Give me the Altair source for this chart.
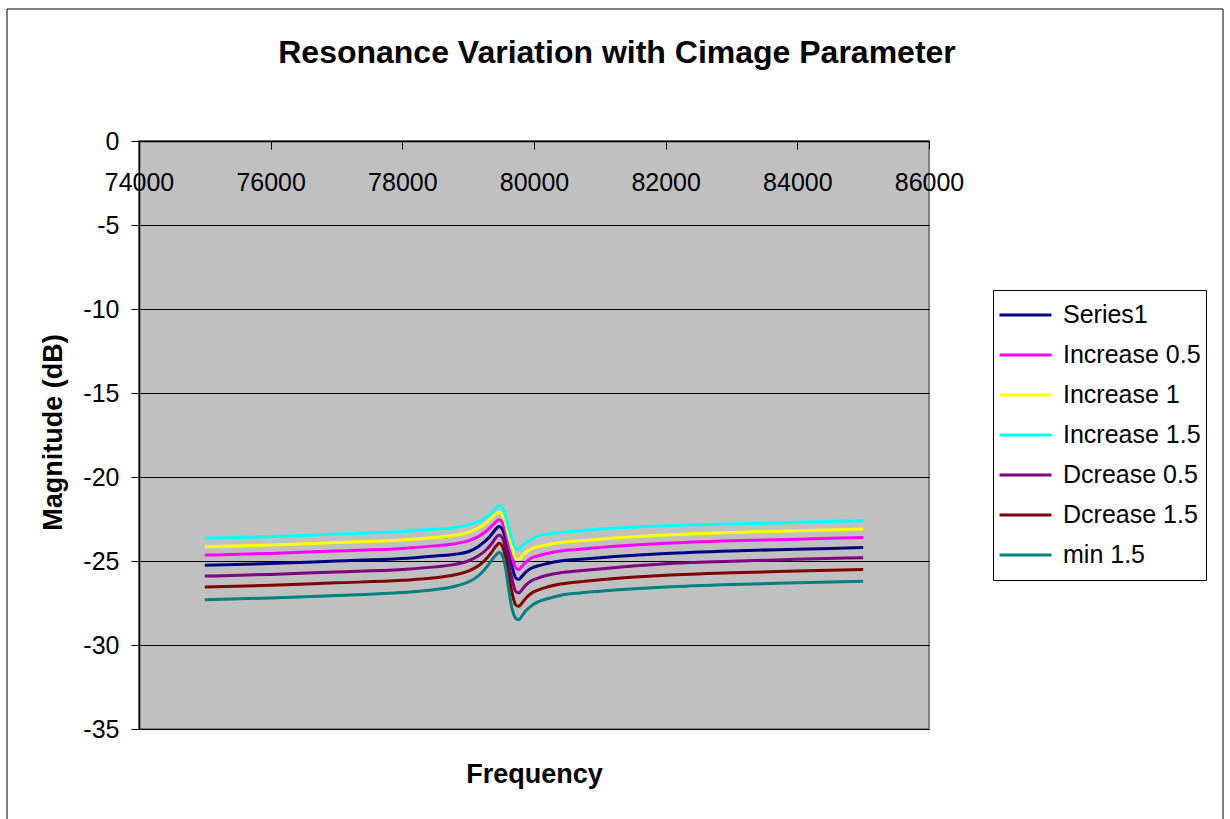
import altair as alt
import pandas as pd

freq = [75000, 76000, 77000, 78000, 78500, 78800, 79000, 79150, 79250, 79350,
        79420, 79470, 79520, 79570, 79620, 79670, 79720, 79770, 79820, 79880,
        79950, 80050, 80200, 80400, 80700, 81000, 82000, 83000, 84000, 85000]

series1 = [-25.25, -25.15, -25.0, -24.85, -24.7, -24.6, -24.45, -24.15, -23.85, -23.45,
           -23.1, -22.95, -23.1, -23.7, -24.6, -25.4, -26.0, -26.1, -25.9, -25.65,
           -25.45, -25.3, -25.15, -25.0, -24.9, -24.8, -24.55, -24.4, -24.3, -24.2]
inc05 = [-24.65, -24.55, -24.4, -24.25, -24.1, -23.97, -23.8, -23.55, -23.3, -22.95,
         -22.67, -22.55, -22.7, -23.25, -24.05, -24.8, -25.4, -25.5, -25.3, -25.05,
         -24.85, -24.7, -24.55, -24.4, -24.3, -24.2, -23.95, -23.8, -23.7, -23.6]
inc1 = [-24.15, -24.05, -23.9, -23.75, -23.6, -23.47, -23.3, -23.05, -22.8, -22.45,
        -22.2, -22.1, -22.25, -22.8, -23.6, -24.3, -24.85, -24.9, -24.7, -24.47,
        -24.3, -24.15, -24.03, -23.9, -23.8, -23.7, -23.45, -23.3, -23.2, -23.1]
inc15 = [-23.65, -23.55, -23.4, -23.25, -23.1, -23.0, -22.85, -22.65, -22.45, -22.15,
         -21.85, -21.7, -21.85, -22.35, -23.1, -23.75, -24.25, -24.3, -24.1, -23.9,
         -23.75, -23.5, -23.4, -23.3, -23.2, -23.1, -22.9, -22.8, -22.7, -22.6]
dec05 = [-25.9, -25.8, -25.65, -25.5, -25.35, -25.2, -25.0, -24.7, -24.42, -24.0,
         -23.62, -23.45, -23.62, -24.25, -25.3, -26.15, -26.8, -26.9, -26.7, -26.42,
         -26.2, -26.03, -25.85, -25.7, -25.58, -25.47, -25.17, -25.02, -24.9, -24.8]
dec15 = [-26.55, -26.45, -26.3, -26.15, -26.0, -25.82, -25.6, -25.3, -24.97, -24.52,
         -24.12, -23.95, -24.12, -24.82, -25.95, -26.95, -27.6, -27.7, -27.48, -27.2,
         -26.95, -26.75, -26.55, -26.37, -26.23, -26.12, -25.85, -25.7, -25.6, -25.5]
min15 = [-27.3, -27.2, -27.05, -26.88, -26.7, -26.5, -26.25, -25.9, -25.5, -25.0,
         -24.65, -24.5, -24.68, -25.45, -26.8, -27.9, -28.4, -28.5, -28.25, -27.95,
         -27.7, -27.45, -27.25, -27.05, -26.9, -26.8, -26.55, -26.4, -26.3, -26.2]

names = ["Series1", "Increase 0.5", "Increase 1", "Increase 1.5",
         "Dcrease 0.5", "Dcrease 1.5", "min 1.5"]
colors = ["#000080", "#FF00FF", "#FFFF00", "#00FFFF", "#800080", "#800000", "#008080"]
x_ticks = [74000, 76000, 78000, 80000, 82000, 84000, 86000]
y_ticks = [0, -5, -10, -15, -20, -25, -30, -35]
title_text = "Resonance Variation with Cimage Parameter"

rows = []
for name, vals in zip(names, [series1, inc05, inc1, inc15, dec05, dec15, min15]):
    for f, v in zip(freq, vals):
        rows.append({"Frequency": f, "Magnitude": v, "Series": name})
df = pd.DataFrame(rows)

FONT = "Liberation Sans"
W, H = 790, 588
one = pd.DataFrame({"a": [0]})

frame = alt.Chart(one).mark_rect(
    fillOpacity=0, stroke="black", strokeWidth=1
).encode(
    x=alt.value(-132), x2=alt.value(1084), y=alt.value(-132), y2=alt.value(700)
)

title = alt.Chart(one).mark_text(
    text=title_text, font=FONT, fontSize=32, fontWeight="bold", color="black",
    align="center", baseline="middle"
).encode(x=alt.value(478), y=alt.value(-88))

lines = alt.Chart(df).mark_line(strokeWidth=3, interpolate="monotone").encode(
    x=alt.X("Frequency:Q",
            scale=alt.Scale(domain=[74000, 86000], nice=False, zero=False),
            axis=alt.Axis(orient="bottom", offset=-H, values=x_ticks,
                          labelExpr="datum.value + ''", labelFlush=False,
                          labelOverlap=False, labelFontSize=25, labelFont=FONT,
                          labelColor="black", labelPadding=21,
                          tickSize=8, tickColor="black", domainColor="black",
                          domainWidth=1.5, grid=False,
                          title="Frequency", titleX=W / 2, titleY=633,
                          titleBaseline="middle", titleAlign="center",
                          titleFontSize=27, titleFont=FONT, titleFontWeight="bold",
                          titleColor="black")),
    y=alt.Y("Magnitude:Q",
            scale=alt.Scale(domain=[-35, 0], nice=False),
            axis=alt.Axis(values=y_ticks, labelExpr="datum.value + ''",
                          labelFontSize=25, labelFont=FONT, labelColor="black",
                          labelPadding=12, tickSize=8, tickColor="black",
                          domainColor="black", domainWidth=1.5,
                          grid=True, gridColor="black", gridWidth=1,
                          title="Magnitude (dB)", titleX=-86, titleY=291,
                          titleAngle=270, titleAlign="center", titleBaseline="middle",
                          titleFontSize=27, titleFont=FONT, titleFontWeight="bold",
                          titleColor="black")),
    color=alt.Color("Series:N",
                    scale=alt.Scale(domain=names, range=colors),
                    legend=alt.Legend(title=None, orient="none", legendX=854, legendY=149,
                                      symbolType="stroke", symbolSize=2704,
                                      symbolStrokeWidth=3, clipHeight=40,
                                      rowPadding=0, labelFontSize=25, labelFont=FONT,
                                      labelColor="black", labelOffset=10,
                                      padding=5, strokeColor="black",
                                      fillColor="white")),
)

chart = alt.layer(frame, title, lines).properties(
    width=W, height=H,
    padding={"left": 6, "top": 8, "right": 0, "bottom": 0},
    background="white",
).configure(font=FONT).configure_view(
    fill="#C0C0C0", stroke="#808080", strokeWidth=2
)

chart.save("out.html", embed_options={"renderer": "svg", "actions": False})
